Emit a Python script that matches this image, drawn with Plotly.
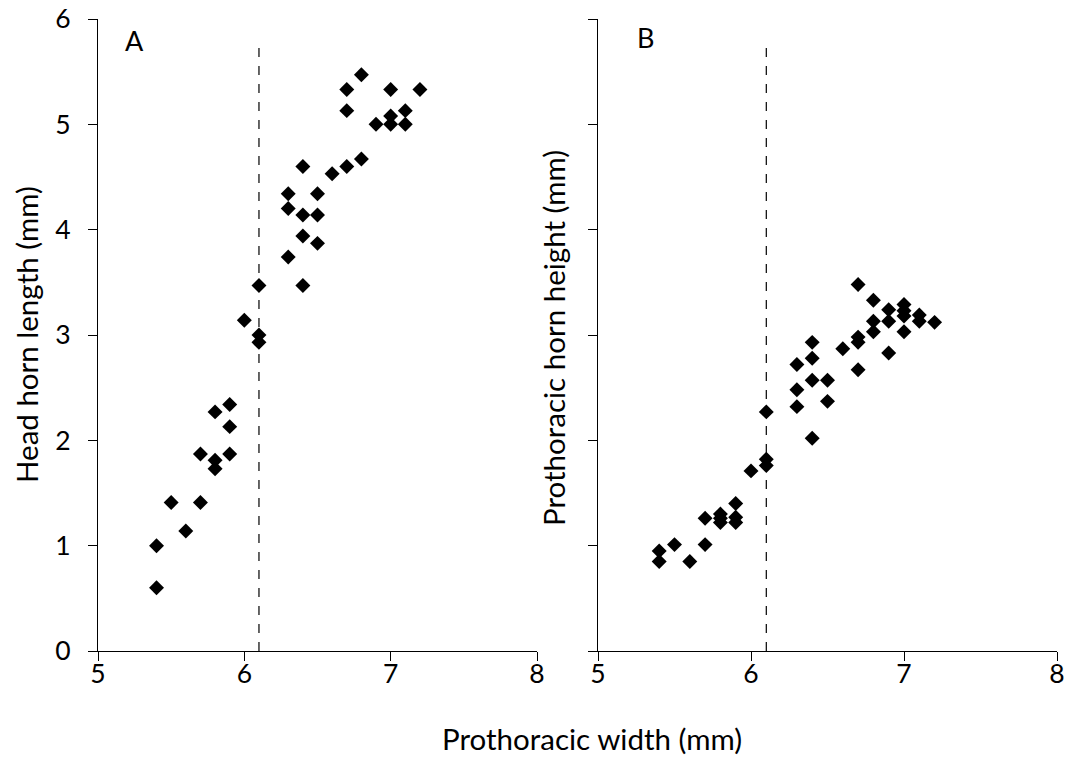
import plotly.graph_objects as go

# Panel A: prothoracic width vs head horn length
a_width = [5.4, 5.4, 5.5, 5.6, 5.7, 5.7, 5.8, 5.8, 5.8, 5.9, 5.9, 5.9, 6.0,
           6.1, 6.1, 6.1, 6.3, 6.3, 6.3, 6.4, 6.4, 6.4, 6.4, 6.5, 6.5, 6.5,
           6.6, 6.7, 6.7, 6.7, 6.8, 6.8, 6.9, 7.0, 7.0, 7.0, 7.1, 7.1, 7.2]
a_head = [1.00, 0.60, 1.41, 1.14, 1.87, 1.41, 2.27, 1.81, 1.73, 2.34, 2.13, 1.87, 3.14,
          3.47, 3.00, 2.93, 4.34, 4.20, 3.74, 4.60, 4.14, 3.94, 3.47, 4.34, 4.14, 3.87,
          4.53, 5.33, 5.13, 4.60, 5.47, 4.67, 5.00, 5.33, 5.08, 5.00, 5.13, 5.00, 5.33]

# Panel B: prothoracic width vs prothoracic horn height
b_width = [5.4, 5.4, 5.5, 5.6, 5.7, 5.7, 5.8, 5.8, 5.8, 5.9, 5.9, 5.9, 6.0,
           6.1, 6.1, 6.1, 6.3, 6.3, 6.3, 6.4, 6.4, 6.4, 6.4, 6.5, 6.5,
           6.6, 6.7, 6.7, 6.7, 6.7, 6.8, 6.8, 6.8, 6.9, 6.9, 6.9,
           7.0, 7.0, 7.0, 7.0, 7.1, 7.1, 7.2]
b_prot = [0.95, 0.85, 1.01, 0.85, 1.26, 1.01, 1.30, 1.26, 1.22, 1.40, 1.27, 1.22, 1.71,
          2.27, 1.82, 1.76, 2.72, 2.48, 2.32, 2.93, 2.78, 2.57, 2.02, 2.57, 2.37,
          2.87, 3.48, 2.98, 2.93, 2.67, 3.33, 3.13, 3.03, 3.24, 3.13, 2.83,
          3.29, 3.23, 3.18, 3.03, 3.19, 3.13, 3.12]

threshold = [6.1, 6.1]
threshold_y = [0, 5.8]

x_ticks = [5, 6, 7, 8]
y_ticks = [0, 1, 2, 3, 4, 5, 6]

FONT = "Lato"
# the page body has an 8px margin: the figure starts at page (8, 8)
OFF = 8
W, H = 1073 - OFF, 757 - OFF
PX0, PX1 = 98, 1057      # plot area, page x
PY0, PY1 = 19, 651       # plot area, page y
L, T = PX0 - OFF, PY0 - OFF
PW, PH = PX1 - PX0, PY1 - PY0
R = W - L - PW
B = H - T - PH

fig = go.Figure()

marker = dict(symbol="diamond", size=11.5, color="black", line=dict(width=0))

fig.add_trace(go.Scatter(x=a_width, y=a_head, mode="markers", marker=marker,
                         xaxis="x", yaxis="y", showlegend=False, cliponaxis=False))
fig.add_trace(go.Scatter(x=threshold, y=threshold_y, mode="lines",
                         line=dict(color="black", width=1.2, dash="dash"),
                         xaxis="x", yaxis="y", showlegend=False))
fig.add_trace(go.Scatter(x=b_width, y=b_prot, mode="markers", marker=marker,
                         xaxis="x2", yaxis="y2", showlegend=False, cliponaxis=False))
fig.add_trace(go.Scatter(x=threshold, y=threshold_y, mode="lines",
                         line=dict(color="black", width=1.2, dash="dash"),
                         xaxis="x2", yaxis="y2", showlegend=False))

tickfont = dict(family=FONT, size=26.5, color="black")
common_x = dict(range=[5, 8], tickvals=x_ticks, showline=True, linecolor="black",
                linewidth=1.3, ticks="outside", ticklen=9, tickcolor="black",
                tickwidth=1.3, showgrid=False, zeroline=False, automargin=False,
                ticklabelstandoff=-10, ticklabeloverflow="allow", tickfont=tickfont)
common_y = dict(range=[0, 6], tickvals=y_ticks, showline=True, linecolor="black",
                linewidth=1.3, ticks="outside", ticklen=9, tickcolor="black",
                tickwidth=1.3, showgrid=False, zeroline=False, domain=[0, 1],
                automargin=False, ticklabelstandoff=12, ticklabeloverflow="allow",
                tickfont=tickfont)

fig.update_layout(
    width=W, height=H,
    margin=dict(l=L, r=R, t=T, b=B, autoexpand=False),
    paper_bgcolor="white", plot_bgcolor="white",
    xaxis=dict(domain=[0, (537 - PX0) / PW], anchor="y", **common_x),
    yaxis=dict(anchor="x", **common_y),
    xaxis2=dict(domain=[(598 - PX0) / PW, 1], anchor="y2", **common_x),
    yaxis2=dict(anchor="x2", showticklabels=False, **common_y),
    font=dict(family=FONT, color="black"),
)

ann_font = dict(family=FONT, size=29.5, color="black")


def px_ann(text, xp, yp, angle=0, font=ann_font):
    # xp, yp are page pixel positions in the reference picture
    xd, yd = xp - OFF, yp - OFF
    fig.add_annotation(text=text, textangle=angle,
                       x=(xd - L) / PW, y=(H - B - yd) / PH,
                       xref="paper", yref="paper", showarrow=False, font=font,
                       xanchor="center", yanchor="middle")


px_ann("Head horn length (mm)", 26, 335, -90)
px_ann("Prothoracic horn height (mm)", 553, 338, -90)
px_ann("Prothoracic width (mm)", 592, 738)
fig.add_annotation(text="A", x=5.25, y=5.8, xref="x", yref="y", showarrow=False,
                   font=dict(family=FONT, size=27, color="black"))
fig.add_annotation(text="B", x=5.31, y=5.82, xref="x2", yref="y2", showarrow=False,
                   font=dict(family=FONT, size=27, color="black"))

fig.write_html("out.html")
